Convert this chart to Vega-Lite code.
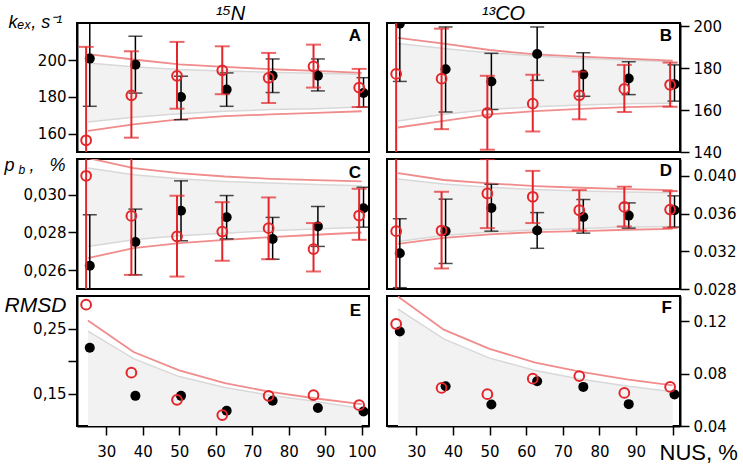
{
  "$schema": "https://vega.github.io/schema/vega-lite/v6.json",
  "padding": {"left": 3, "top": 2, "right": 0, "bottom": 0},
  "background": "white",
  "datasets": {
    "pts": [
      {"p":"A","s":"exp","x":25.5,"y":200.9,"lo":174.9,"hi":226.9},
      {"p":"A","s":"exp","x":38,"y":197.6,"lo":182.1,"hi":213.1},
      {"p":"A","s":"exp","x":50.5,"y":180.0,"lo":167.6,"hi":191.3},
      {"p":"A","s":"exp","x":63,"y":184.0,"lo":174.9,"hi":193.1},
      {"p":"A","s":"exp","x":75.6,"y":191.6,"lo":182.4,"hi":200.7},
      {"p":"A","s":"exp","x":88,"y":191.6,"lo":183.3,"hi":200.7},
      {"p":"A","s":"exp","x":100.5,"y":182.2,"lo":174.5,"hi":190.5},
      {"p":"A","s":"sim","x":24.5,"y":156.4,"lo":105,"hi":207.3},
      {"p":"A","s":"sim","x":36.9,"y":180.9,"lo":157.8,"hi":204.9},
      {"p":"A","s":"sim","x":49.4,"y":191.5,"lo":173.6,"hi":210.0},
      {"p":"A","s":"sim","x":61.8,"y":194.5,"lo":181.5,"hi":207.6},
      {"p":"A","s":"sim","x":74.5,"y":190.4,"lo":176.7,"hi":204.0},
      {"p":"A","s":"sim","x":86.8,"y":196.7,"lo":185.1,"hi":208.5},
      {"p":"A","s":"sim","x":99.3,"y":185.1,"lo":174.5,"hi":195.3},
      {"p":"B","s":"exp","x":25.5,"y":201.3,"lo":173.7,"hi":229},
      {"p":"B","s":"exp","x":38,"y":179.5,"lo":159.1,"hi":199.7},
      {"p":"B","s":"exp","x":50.5,"y":173.7,"lo":160.3,"hi":187.1},
      {"p":"B","s":"exp","x":63,"y":186.8,"lo":174.2,"hi":199.7},
      {"p":"B","s":"exp","x":75.6,"y":177.0,"lo":166.6,"hi":187.4},
      {"p":"B","s":"exp","x":88,"y":175.1,"lo":167.4,"hi":183.1},
      {"p":"B","s":"exp","x":100.5,"y":172.4,"lo":164.3,"hi":181.6},
      {"p":"B","s":"sim","x":24.5,"y":177.3,"lo":127,"hi":228},
      {"p":"B","s":"sim","x":36.9,"y":175.0,"lo":150.9,"hi":198.9},
      {"p":"B","s":"sim","x":49.4,"y":158.7,"lo":141.1,"hi":176.4},
      {"p":"B","s":"sim","x":61.8,"y":163.1,"lo":149.8,"hi":176.9},
      {"p":"B","s":"sim","x":74.5,"y":167.1,"lo":155.6,"hi":178.4},
      {"p":"B","s":"sim","x":86.8,"y":170.1,"lo":159.1,"hi":181.6},
      {"p":"B","s":"sim","x":99.3,"y":172.1,"lo":161.6,"hi":182.7},
      {"p":"C","s":"exp","x":25.5,"y":0.02623,"lo":0.02353,"hi":0.02894},
      {"p":"C","s":"exp","x":38,"y":0.02749,"lo":0.02575,"hi":0.02924},
      {"p":"C","s":"exp","x":50.5,"y":0.02915,"lo":0.02756,"hi":0.03074},
      {"p":"C","s":"exp","x":63,"y":0.02881,"lo":0.02766,"hi":0.02996},
      {"p":"C","s":"exp","x":75.6,"y":0.02765,"lo":0.02658,"hi":0.0288},
      {"p":"C","s":"exp","x":88,"y":0.02832,"lo":0.02726,"hi":0.02938},
      {"p":"C","s":"exp","x":100.5,"y":0.02929,"lo":0.02828,"hi":0.0304},
      {"p":"C","s":"sim","x":24.5,"y":0.03101,"lo":0.021,"hi":0.041},
      {"p":"C","s":"sim","x":36.9,"y":0.02888,"lo":0.02575,"hi":0.03201},
      {"p":"C","s":"sim","x":49.4,"y":0.02779,"lo":0.02566,"hi":0.02995},
      {"p":"C","s":"sim","x":61.8,"y":0.02805,"lo":0.0265,"hi":0.02961},
      {"p":"C","s":"sim","x":74.5,"y":0.02823,"lo":0.02658,"hi":0.02986},
      {"p":"C","s":"sim","x":86.8,"y":0.02712,"lo":0.02593,"hi":0.0285},
      {"p":"C","s":"sim","x":99.3,"y":0.0289,"lo":0.02761,"hi":0.03032},
      {"p":"D","s":"exp","x":25.5,"y":0.03179,"lo":0.02814,"hi":0.03546},
      {"p":"D","s":"exp","x":38,"y":0.03414,"lo":0.03071,"hi":0.03754},
      {"p":"D","s":"exp","x":50.5,"y":0.03661,"lo":0.03414,"hi":0.03911},
      {"p":"D","s":"exp","x":63,"y":0.03421,"lo":0.03232,"hi":0.03611},
      {"p":"D","s":"exp","x":75.6,"y":0.03564,"lo":0.03393,"hi":0.0375},
      {"p":"D","s":"exp","x":88,"y":0.03579,"lo":0.03446,"hi":0.03714},
      {"p":"D","s":"exp","x":100.5,"y":0.03636,"lo":0.03457,"hi":0.03789},
      {"p":"D","s":"sim","x":24.5,"y":0.03414,"lo":0.024,"hi":0.044},
      {"p":"D","s":"sim","x":36.9,"y":0.03421,"lo":0.03018,"hi":0.03832},
      {"p":"D","s":"sim","x":49.4,"y":0.03814,"lo":0.03446,"hi":0.04179},
      {"p":"D","s":"sim","x":61.8,"y":0.03779,"lo":0.035,"hi":0.04054},
      {"p":"D","s":"sim","x":74.5,"y":0.03636,"lo":0.03421,"hi":0.0385},
      {"p":"D","s":"sim","x":86.8,"y":0.03671,"lo":0.03464,"hi":0.03886},
      {"p":"D","s":"sim","x":99.3,"y":0.03643,"lo":0.0345,"hi":0.03839},
      {"p":"E","s":"exp","x":25.5,"y":0.2204},
      {"p":"E","s":"exp","x":38,"y":0.1464},
      {"p":"E","s":"exp","x":50.5,"y":0.1464},
      {"p":"E","s":"exp","x":63,"y":0.1235},
      {"p":"E","s":"exp","x":75.6,"y":0.1388},
      {"p":"E","s":"exp","x":88,"y":0.1276},
      {"p":"E","s":"exp","x":100.5,"y":0.1224},
      {"p":"E","s":"sim","x":24.5,"y":0.2867},
      {"p":"E","s":"sim","x":36.9,"y":0.1821},
      {"p":"E","s":"sim","x":49.4,"y":0.1403},
      {"p":"E","s":"sim","x":61.8,"y":0.1168},
      {"p":"E","s":"sim","x":74.5,"y":0.1464},
      {"p":"E","s":"sim","x":86.8,"y":0.1474},
      {"p":"E","s":"sim","x":99.3,"y":0.1321},
      {"p":"F","s":"exp","x":25.5,"y":0.1122},
      {"p":"F","s":"exp","x":38,"y":0.0704},
      {"p":"F","s":"exp","x":50.5,"y":0.0565},
      {"p":"F","s":"exp","x":63,"y":0.0742},
      {"p":"F","s":"exp","x":75.6,"y":0.0699},
      {"p":"F","s":"exp","x":88,"y":0.0567},
      {"p":"F","s":"exp","x":100.5,"y":0.0641},
      {"p":"F","s":"sim","x":24.5,"y":0.118},
      {"p":"F","s":"sim","x":36.9,"y":0.0691},
      {"p":"F","s":"sim","x":49.4,"y":0.0643},
      {"p":"F","s":"sim","x":61.8,"y":0.0762},
      {"p":"F","s":"sim","x":74.5,"y":0.0782},
      {"p":"F","s":"sim","x":86.8,"y":0.0653},
      {"p":"F","s":"sim","x":99.3,"y":0.0699}
    ],
    "band": [
      {"p":"A","x":25,"ru":203.3,"rl":161.5,"gu":198.5,"gl":166.4},
      {"p":"A","x":37.5,"ru":200.4,"rl":165.1,"gu":196.4,"gl":169.0},
      {"p":"A","x":50,"ru":197.8,"rl":167.8,"gu":195.0,"gl":170.9},
      {"p":"A","x":62.5,"ru":196.4,"rl":169.5,"gu":194.2,"gl":172.2},
      {"p":"A","x":75,"ru":195.1,"rl":170.5,"gu":193.5,"gl":173.1},
      {"p":"A","x":87.5,"ru":194.2,"rl":171.3,"gu":192.9,"gl":173.6},
      {"p":"A","x":100,"ru":193.1,"rl":172.2,"gu":192.4,"gl":174.5},
      {"p":"B","x":25,"ru":194.5,"rl":151.7,"gu":191.8,"gl":154.8},
      {"p":"B","x":37.5,"ru":191.8,"rl":154.9,"gu":189.4,"gl":158.0},
      {"p":"B","x":50,"ru":188.7,"rl":158.0,"gu":187.4,"gl":160.3},
      {"p":"B","x":62.5,"ru":186.6,"rl":159.5,"gu":185.8,"gl":161.6},
      {"p":"B","x":75,"ru":185.5,"rl":160.6,"gu":184.7,"gl":162.4},
      {"p":"B","x":87.5,"ru":184.6,"rl":161.4,"gu":183.9,"gl":163.0},
      {"p":"B","x":100,"ru":183.6,"rl":161.9,"gu":183.1,"gl":163.3},
      {"p":"C","x":25,"ru":0.03195,"rl":0.02664,"gu":0.03142,"gl":0.02726},
      {"p":"C","x":37.5,"ru":0.03142,"rl":0.02717,"gu":0.03106,"gl":0.02761},
      {"p":"C","x":50,"ru":0.03115,"rl":0.02743,"gu":0.03085,"gl":0.02782},
      {"p":"C","x":62.5,"ru":0.03097,"rl":0.02761,"gu":0.03071,"gl":0.02796},
      {"p":"C","x":75,"ru":0.03085,"rl":0.02775,"gu":0.03062,"gl":0.02809},
      {"p":"C","x":87.5,"ru":0.03078,"rl":0.02788,"gu":0.03055,"gl":0.02818},
      {"p":"C","x":100,"ru":0.03071,"rl":0.028,"gu":0.03048,"gl":0.02828},
      {"p":"D","x":25,"ru":0.04029,"rl":0.03279,"gu":0.03968,"gl":0.03304},
      {"p":"D","x":37.5,"ru":0.03957,"rl":0.03343,"gu":0.03914,"gl":0.03368},
      {"p":"D","x":50,"ru":0.03921,"rl":0.03379,"gu":0.03879,"gl":0.03404},
      {"p":"D","x":62.5,"ru":0.03893,"rl":0.03404,"gu":0.03857,"gl":0.03429},
      {"p":"D","x":75,"ru":0.03875,"rl":0.03414,"gu":0.03839,"gl":0.03443},
      {"p":"D","x":87.5,"ru":0.03861,"rl":0.03429,"gu":0.03829,"gl":0.03457},
      {"p":"D","x":100,"ru":0.0385,"rl":0.03439,"gu":0.03821,"gl":0.03464},
      {"p":"E","x":25,"ru":0.2622,"gu":0.2459,"gl":0.1},
      {"p":"E","x":37.5,"ru":0.2138,"gu":0.2036,"gl":0.1},
      {"p":"E","x":50,"ru":0.1857,"gu":0.176,"gl":0.1},
      {"p":"E","x":62.5,"ru":0.1658,"gu":0.1592,"gl":0.1},
      {"p":"E","x":75,"ru":0.1526,"gu":0.1474,"gl":0.1},
      {"p":"E","x":87.5,"ru":0.1423,"gu":0.1378,"gl":0.1},
      {"p":"E","x":100,"ru":0.1337,"gu":0.127,"gl":0.1},
      {"p":"F","x":25,"ru":0.139,"gu":0.1294,"gl":0.04},
      {"p":"F","x":37.5,"ru":0.1137,"gu":0.1066,"gl":0.04},
      {"p":"F","x":50,"ru":0.099,"gu":0.0919,"gl":0.04},
      {"p":"F","x":62.5,"ru":0.0884,"gu":0.0825,"gl":0.04},
      {"p":"F","x":75,"ru":0.0813,"gu":0.0757,"gl":0.04},
      {"p":"F","x":87.5,"ru":0.0757,"gu":0.0706,"gl":0.04},
      {"p":"F","x":100,"ru":0.0711,"gu":0.0661,"gl":0.04}
    ]
  },
  "config": {
    "view": {"stroke": "black", "strokeWidth": 2},
    "axis": {"domainColor": "black", "domainWidth": 2, "tickColor": "black", "tickWidth": 1.5, "tickSize": 9, "labelFont": "DejaVu Sans", "labelFontSize": 15, "labelColor": "black", "grid": false, "titleColor": "black", "titleFontWeight": "normal", "titleFont": "Liberation Sans", "titleFontStyle": "italic"},
    "title": {"font": "Liberation Sans", "fontSize": 17, "fontWeight": "bold", "color": "black", "anchor": "end", "frame": "group", "baseline": "alphabetic", "dx": -8}
  },
  "columns": 2,
  "spacing": {"row": 7, "column": 18},
  "bounds": "flush",
  "concat": [
    {
      "width": 292, "height": 129,
      "title": {"text": "A", "offset": -42},
      "layer": [
        {"data": {"name": "band"}, "transform": [{"filter": "datum.p == 'A'"}], "mark": {"type": "area", "color": "#f2f2f2", "clip": true},
         "encoding": {
           "x": {"field": "x", "type": "quantitative", "scale": {"domain": [22, 102], "nice": false, "zero": false},
                 "axis": {"orient": "top", "labels": false, "ticks": false, "domain": false, "title": "¹⁵N", "titleFontSize": 20, "titleX": 153, "titleY": -4, "titleBaseline": "alphabetic", "titleAlign": "center"}},
           "y": {"field": "gu", "type": "quantitative", "scale": {"domain": [150, 220.3], "nice": false, "zero": false},
                 "axis": {"values": [160, 180, 200], "labelPadding": 2, "title": "kₑₓ, s⁻¹", "titleFontSize": 18, "titleAngle": 0, "titleAlign": "left", "titleBaseline": "alphabetic", "titleX": -69, "titleY": 4}},
           "y2": {"field": "gl"}}},
        {"data": {"name": "band"}, "transform": [{"filter": "datum.p == 'A'"}], "mark": {"type": "line", "color": "#d8d8d8", "strokeWidth": 1.5, "clip": true},
         "encoding": {"x": {"field": "x", "type": "quantitative"}, "y": {"field": "gu", "type": "quantitative", "title": "kₑₓ, s⁻¹"}}},
        {"data": {"name": "band"}, "transform": [{"filter": "datum.p == 'A'"}], "mark": {"type": "line", "color": "#d8d8d8", "strokeWidth": 1.5, "clip": true},
         "encoding": {"x": {"field": "x", "type": "quantitative"}, "y": {"field": "gl", "type": "quantitative", "title": "kₑₓ, s⁻¹"}}},
        {"data": {"name": "band"}, "transform": [{"filter": "datum.p == 'A'"}], "mark": {"type": "line", "color": "#f08c8c", "strokeWidth": 1.8, "clip": true},
         "encoding": {"x": {"field": "x", "type": "quantitative"}, "y": {"field": "ru", "type": "quantitative", "title": "kₑₓ, s⁻¹"}}},
        {"data": {"name": "band"}, "transform": [{"filter": "datum.p == 'A'"}], "mark": {"type": "line", "color": "#f08c8c", "strokeWidth": 1.8, "clip": true},
         "encoding": {"x": {"field": "x", "type": "quantitative"}, "y": {"field": "rl", "type": "quantitative", "title": "kₑₓ, s⁻¹"}}},
        {"data": {"name": "pts"}, "transform": [{"filter": "datum.p == 'A' && datum.s == 'exp'"}], "mark": {"type": "errorbar", "color": "black", "thickness": 1.5, "ticks": {"size": 14, "thickness": 1.5}, "clip": true},
         "encoding": {"x": {"field": "x", "type": "quantitative"}, "y": {"field": "lo", "type": "quantitative", "title": "kₑₓ, s⁻¹"}, "y2": {"field": "hi"}}},
        {"data": {"name": "pts"}, "transform": [{"filter": "datum.p == 'A' && datum.s == 'exp'"}], "mark": {"type": "point", "filled": true, "color": "black", "opacity": 1, "size": 100, "clip": true},
         "encoding": {"x": {"field": "x", "type": "quantitative"}, "y": {"field": "y", "type": "quantitative", "title": "kₑₓ, s⁻¹"}}},
        {"data": {"name": "pts"}, "transform": [{"filter": "datum.p == 'A' && datum.s == 'sim'"}], "mark": {"type": "errorbar", "color": "#e3262b", "thickness": 2, "ticks": {"size": 15, "thickness": 2}, "clip": true},
         "encoding": {"x": {"field": "x", "type": "quantitative"}, "y": {"field": "lo", "type": "quantitative", "title": "kₑₓ, s⁻¹"}, "y2": {"field": "hi"}}},
        {"data": {"name": "pts"}, "transform": [{"filter": "datum.p == 'A' && datum.s == 'sim'"}], "mark": {"type": "point", "filled": false, "color": "#e3262b", "strokeWidth": 2, "opacity": 1, "size": 95, "clip": true},
         "encoding": {"x": {"field": "x", "type": "quantitative"}, "y": {"field": "y", "type": "quantitative", "title": "kₑₓ, s⁻¹"}}}
      ]
    },
    {
      "width": 293, "height": 129,
      "title": {"text": "B", "offset": -42},
      "layer": [
        {"data": {"name": "band"}, "transform": [{"filter": "datum.p == 'B'"}], "mark": {"type": "area", "color": "#f2f2f2", "clip": true},
         "encoding": {
           "x": {"field": "x", "type": "quantitative", "scale": {"domain": [22, 102], "nice": false, "zero": false},
                 "axis": {"orient": "top", "labels": false, "ticks": false, "domain": false, "title": "¹³CO", "titleFontSize": 20, "titleX": 116, "titleY": -4, "titleBaseline": "alphabetic", "titleAlign": "center"}},
           "y": {"field": "gu", "type": "quantitative", "scale": {"domain": [140, 201.6], "nice": false, "zero": false},
                 "axis": {"orient": "right", "values": [140, 160, 180, 200], "labelPadding": 4, "title": null}},
           "y2": {"field": "gl"}}},
        {"data": {"name": "band"}, "transform": [{"filter": "datum.p == 'B'"}], "mark": {"type": "line", "color": "#d8d8d8", "strokeWidth": 1.5, "clip": true},
         "encoding": {"x": {"field": "x", "type": "quantitative"}, "y": {"field": "gu", "type": "quantitative", "title": null}}},
        {"data": {"name": "band"}, "transform": [{"filter": "datum.p == 'B'"}], "mark": {"type": "line", "color": "#d8d8d8", "strokeWidth": 1.5, "clip": true},
         "encoding": {"x": {"field": "x", "type": "quantitative"}, "y": {"field": "gl", "type": "quantitative", "title": null}}},
        {"data": {"name": "band"}, "transform": [{"filter": "datum.p == 'B'"}], "mark": {"type": "line", "color": "#f08c8c", "strokeWidth": 1.8, "clip": true},
         "encoding": {"x": {"field": "x", "type": "quantitative"}, "y": {"field": "ru", "type": "quantitative", "title": null}}},
        {"data": {"name": "band"}, "transform": [{"filter": "datum.p == 'B'"}], "mark": {"type": "line", "color": "#f08c8c", "strokeWidth": 1.8, "clip": true},
         "encoding": {"x": {"field": "x", "type": "quantitative"}, "y": {"field": "rl", "type": "quantitative", "title": null}}},
        {"data": {"name": "pts"}, "transform": [{"filter": "datum.p == 'B' && datum.s == 'exp'"}], "mark": {"type": "errorbar", "color": "black", "thickness": 1.5, "ticks": {"size": 14, "thickness": 1.5}, "clip": true},
         "encoding": {"x": {"field": "x", "type": "quantitative"}, "y": {"field": "lo", "type": "quantitative", "title": null}, "y2": {"field": "hi"}}},
        {"data": {"name": "pts"}, "transform": [{"filter": "datum.p == 'B' && datum.s == 'exp'"}], "mark": {"type": "point", "filled": true, "color": "black", "opacity": 1, "size": 100, "clip": true},
         "encoding": {"x": {"field": "x", "type": "quantitative"}, "y": {"field": "y", "type": "quantitative", "title": null}}},
        {"data": {"name": "pts"}, "transform": [{"filter": "datum.p == 'B' && datum.s == 'sim'"}], "mark": {"type": "errorbar", "color": "#e3262b", "thickness": 2, "ticks": {"size": 15, "thickness": 2}, "clip": true},
         "encoding": {"x": {"field": "x", "type": "quantitative"}, "y": {"field": "lo", "type": "quantitative", "title": null}, "y2": {"field": "hi"}}},
        {"data": {"name": "pts"}, "transform": [{"filter": "datum.p == 'B' && datum.s == 'sim'"}], "mark": {"type": "point", "filled": false, "color": "#e3262b", "strokeWidth": 2, "opacity": 1, "size": 95, "clip": true},
         "encoding": {"x": {"field": "x", "type": "quantitative"}, "y": {"field": "y", "type": "quantitative", "title": null}}}
      ]
    },
    {
      "width": 292, "height": 130,
      "title": {"text": "C", "offset": -26},
      "layer": [
        {"data": {"name": "band"}, "transform": [{"filter": "datum.p == 'C'"}], "mark": {"type": "area", "color": "#f2f2f2", "clip": true},
         "encoding": {
           "x": {"field": "x", "type": "quantitative", "scale": {"domain": [22, 102], "nice": false, "zero": false},
                 "axis": {"orient": "top", "labels": false, "ticks": false, "domain": false, "title": "b", "titleFontSize": 12, "titleX": -59, "titleY": 14, "titleBaseline": "alphabetic", "titleAlign": "left"}},
           "y": {"field": "gu", "type": "quantitative", "scale": {"domain": [0.025, 0.0319], "nice": false, "zero": false},
                 "axis": {"values": [0.026, 0.028, 0.030], "labelExpr": "replace(format(datum.value, '.3f'), '.', ',')", "labelPadding": 2, "title": "p\u00a0\u00a0\u00a0,\u00a0\u00a0\u00a0%", "titleFontSize": 18, "titleAngle": 0, "titleAlign": "left", "titleBaseline": "alphabetic", "titleX": -73, "titleY": 11}},
           "y2": {"field": "gl"}}},
        {"data": {"name": "band"}, "transform": [{"filter": "datum.p == 'C'"}], "mark": {"type": "line", "color": "#d8d8d8", "strokeWidth": 1.5, "clip": true},
         "encoding": {"x": {"field": "x", "type": "quantitative", "title": "b"}, "y": {"field": "gu", "type": "quantitative", "title": "p\u00a0\u00a0\u00a0,\u00a0\u00a0\u00a0%"}}},
        {"data": {"name": "band"}, "transform": [{"filter": "datum.p == 'C'"}], "mark": {"type": "line", "color": "#d8d8d8", "strokeWidth": 1.5, "clip": true},
         "encoding": {"x": {"field": "x", "type": "quantitative", "title": "b"}, "y": {"field": "gl", "type": "quantitative", "title": "p\u00a0\u00a0\u00a0,\u00a0\u00a0\u00a0%"}}},
        {"data": {"name": "band"}, "transform": [{"filter": "datum.p == 'C'"}], "mark": {"type": "line", "color": "#f08c8c", "strokeWidth": 1.8, "clip": true},
         "encoding": {"x": {"field": "x", "type": "quantitative", "title": "b"}, "y": {"field": "ru", "type": "quantitative", "title": "p\u00a0\u00a0\u00a0,\u00a0\u00a0\u00a0%"}}},
        {"data": {"name": "band"}, "transform": [{"filter": "datum.p == 'C'"}], "mark": {"type": "line", "color": "#f08c8c", "strokeWidth": 1.8, "clip": true},
         "encoding": {"x": {"field": "x", "type": "quantitative", "title": "b"}, "y": {"field": "rl", "type": "quantitative", "title": "p\u00a0\u00a0\u00a0,\u00a0\u00a0\u00a0%"}}},
        {"data": {"name": "pts"}, "transform": [{"filter": "datum.p == 'C' && datum.s == 'exp'"}], "mark": {"type": "errorbar", "color": "black", "thickness": 1.5, "ticks": {"size": 14, "thickness": 1.5}, "clip": true},
         "encoding": {"x": {"field": "x", "type": "quantitative", "title": "b"}, "y": {"field": "lo", "type": "quantitative", "title": "p\u00a0\u00a0\u00a0,\u00a0\u00a0\u00a0%"}, "y2": {"field": "hi"}}},
        {"data": {"name": "pts"}, "transform": [{"filter": "datum.p == 'C' && datum.s == 'exp'"}], "mark": {"type": "point", "filled": true, "color": "black", "opacity": 1, "size": 100, "clip": true},
         "encoding": {"x": {"field": "x", "type": "quantitative", "title": "b"}, "y": {"field": "y", "type": "quantitative", "title": "p\u00a0\u00a0\u00a0,\u00a0\u00a0\u00a0%"}}},
        {"data": {"name": "pts"}, "transform": [{"filter": "datum.p == 'C' && datum.s == 'sim'"}], "mark": {"type": "errorbar", "color": "#e3262b", "thickness": 2, "ticks": {"size": 15, "thickness": 2}, "clip": true},
         "encoding": {"x": {"field": "x", "type": "quantitative", "title": "b"}, "y": {"field": "lo", "type": "quantitative", "title": "p\u00a0\u00a0\u00a0,\u00a0\u00a0\u00a0%"}, "y2": {"field": "hi"}}},
        {"data": {"name": "pts"}, "transform": [{"filter": "datum.p == 'C' && datum.s == 'sim'"}], "mark": {"type": "point", "filled": false, "color": "#e3262b", "strokeWidth": 2, "opacity": 1, "size": 95, "clip": true},
         "encoding": {"x": {"field": "x", "type": "quantitative", "title": "b"}, "y": {"field": "y", "type": "quantitative", "title": "p\u00a0\u00a0\u00a0,\u00a0\u00a0\u00a0%"}}}
      ]
    },
    {
      "width": 293, "height": 130,
      "title": {"text": "D", "offset": -21},
      "layer": [
        {"data": {"name": "band"}, "transform": [{"filter": "datum.p == 'D'"}], "mark": {"type": "area", "color": "#f2f2f2", "clip": true},
         "encoding": {
           "x": {"field": "x", "type": "quantitative", "scale": {"domain": [22, 102], "nice": false, "zero": false}, "axis": null},
           "y": {"field": "gu", "type": "quantitative", "scale": {"domain": [0.028, 0.0418], "nice": false, "zero": false},
                 "axis": {"orient": "right", "values": [0.028, 0.032, 0.036, 0.040], "format": ".3f", "labelPadding": 4, "title": null}},
           "y2": {"field": "gl"}}},
        {"data": {"name": "band"}, "transform": [{"filter": "datum.p == 'D'"}], "mark": {"type": "line", "color": "#d8d8d8", "strokeWidth": 1.5, "clip": true},
         "encoding": {"x": {"field": "x", "type": "quantitative"}, "y": {"field": "gu", "type": "quantitative", "title": null}}},
        {"data": {"name": "band"}, "transform": [{"filter": "datum.p == 'D'"}], "mark": {"type": "line", "color": "#d8d8d8", "strokeWidth": 1.5, "clip": true},
         "encoding": {"x": {"field": "x", "type": "quantitative"}, "y": {"field": "gl", "type": "quantitative", "title": null}}},
        {"data": {"name": "band"}, "transform": [{"filter": "datum.p == 'D'"}], "mark": {"type": "line", "color": "#f08c8c", "strokeWidth": 1.8, "clip": true},
         "encoding": {"x": {"field": "x", "type": "quantitative"}, "y": {"field": "ru", "type": "quantitative", "title": null}}},
        {"data": {"name": "band"}, "transform": [{"filter": "datum.p == 'D'"}], "mark": {"type": "line", "color": "#f08c8c", "strokeWidth": 1.8, "clip": true},
         "encoding": {"x": {"field": "x", "type": "quantitative"}, "y": {"field": "rl", "type": "quantitative", "title": null}}},
        {"data": {"name": "pts"}, "transform": [{"filter": "datum.p == 'D' && datum.s == 'exp'"}], "mark": {"type": "errorbar", "color": "black", "thickness": 1.5, "ticks": {"size": 14, "thickness": 1.5}, "clip": true},
         "encoding": {"x": {"field": "x", "type": "quantitative"}, "y": {"field": "lo", "type": "quantitative", "title": null}, "y2": {"field": "hi"}}},
        {"data": {"name": "pts"}, "transform": [{"filter": "datum.p == 'D' && datum.s == 'exp'"}], "mark": {"type": "point", "filled": true, "color": "black", "opacity": 1, "size": 100, "clip": true},
         "encoding": {"x": {"field": "x", "type": "quantitative"}, "y": {"field": "y", "type": "quantitative", "title": null}}},
        {"data": {"name": "pts"}, "transform": [{"filter": "datum.p == 'D' && datum.s == 'sim'"}], "mark": {"type": "errorbar", "color": "#e3262b", "thickness": 2, "ticks": {"size": 15, "thickness": 2}, "clip": true},
         "encoding": {"x": {"field": "x", "type": "quantitative"}, "y": {"field": "lo", "type": "quantitative", "title": null}, "y2": {"field": "hi"}}},
        {"data": {"name": "pts"}, "transform": [{"filter": "datum.p == 'D' && datum.s == 'sim'"}], "mark": {"type": "point", "filled": false, "color": "#e3262b", "strokeWidth": 2, "opacity": 1, "size": 95, "clip": true},
         "encoding": {"x": {"field": "x", "type": "quantitative"}, "y": {"field": "y", "type": "quantitative", "title": null}}}
      ]
    },
    {
      "width": 292, "height": 130,
      "title": {"text": "E", "offset": -26},
      "layer": [
        {"data": {"name": "band"}, "transform": [{"filter": "datum.p == 'E'"}], "mark": {"type": "area", "color": "#f2f2f2", "clip": true},
         "encoding": {
           "x": {"field": "x", "type": "quantitative", "scale": {"domain": [22, 102], "nice": false, "zero": false},
                 "axis": {"values": [30, 40, 50, 60, 70, 80, 90, 100], "labelPadding": 9, "title": null}},
           "y": {"field": "gu", "type": "quantitative", "scale": {"domain": [0.1, 0.3], "nice": false, "zero": false},
                 "axis": {"values": [0.15, 0.2, 0.25], "labelExpr": "abs(datum.value - 0.2) < 0.001 ? '' : replace(format(datum.value, '.2f'), '.', ',')", "labelPadding": 2, "title": "RMSD", "titleFontSize": 21, "titleAngle": 0, "titleAlign": "left", "titleBaseline": "alphabetic", "titleX": -73, "titleY": 15}},
           "y2": {"field": "gl"}}},
        {"data": {"name": "band"}, "transform": [{"filter": "datum.p == 'E'"}], "mark": {"type": "line", "color": "#d8d8d8", "strokeWidth": 1.5, "clip": true},
         "encoding": {"x": {"field": "x", "type": "quantitative", "title": null}, "y": {"field": "gu", "type": "quantitative", "title": "RMSD"}}},
        {"data": {"name": "band"}, "transform": [{"filter": "datum.p == 'E'"}], "mark": {"type": "line", "color": "#f08c8c", "strokeWidth": 1.8, "clip": true},
         "encoding": {"x": {"field": "x", "type": "quantitative", "title": null}, "y": {"field": "ru", "type": "quantitative", "title": "RMSD"}}},
        {"data": {"name": "pts"}, "transform": [{"filter": "datum.p == 'E' && datum.s == 'exp'"}], "mark": {"type": "point", "filled": true, "color": "black", "opacity": 1, "size": 100, "clip": true},
         "encoding": {"x": {"field": "x", "type": "quantitative", "title": null}, "y": {"field": "y", "type": "quantitative", "title": "RMSD"}}},
        {"data": {"name": "pts"}, "transform": [{"filter": "datum.p == 'E' && datum.s == 'sim'"}], "mark": {"type": "point", "filled": false, "color": "#e3262b", "strokeWidth": 2, "opacity": 1, "size": 95, "clip": true},
         "encoding": {"x": {"field": "x", "type": "quantitative", "title": null}, "y": {"field": "y", "type": "quantitative", "title": "RMSD"}}}
      ]
    },
    {
      "width": 293, "height": 130,
      "title": {"text": "F", "offset": -21},
      "layer": [
        {"data": {"name": "band"}, "transform": [{"filter": "datum.p == 'F'"}], "mark": {"type": "area", "color": "#f2f2f2", "clip": true},
         "encoding": {
           "x": {"field": "x", "type": "quantitative", "scale": {"domain": [22, 102], "nice": false, "zero": false},
                 "axis": {"values": [30, 40, 50, 60, 70, 80, 90, 100], "labelExpr": "datum.value == 100 ? '' : datum.label", "labelPadding": 9, "title": "NUS, %", "titleFontStyle": "normal", "titleFontSize": 22, "titleAlign": "left", "titleBaseline": "alphabetic", "titleX": 272, "titleY": 33}},
           "y": {"field": "gu", "type": "quantitative", "scale": {"domain": [0.04, 0.1394], "nice": false, "zero": false},
                 "axis": {"orient": "right", "values": [0.04, 0.08, 0.12], "format": ".2f", "labelPadding": 4, "title": null}},
           "y2": {"field": "gl"}}},
        {"data": {"name": "band"}, "transform": [{"filter": "datum.p == 'F'"}], "mark": {"type": "line", "color": "#d8d8d8", "strokeWidth": 1.5, "clip": true},
         "encoding": {"x": {"field": "x", "type": "quantitative", "title": "NUS, %"}, "y": {"field": "gu", "type": "quantitative", "title": null}}},
        {"data": {"name": "band"}, "transform": [{"filter": "datum.p == 'F'"}], "mark": {"type": "line", "color": "#f08c8c", "strokeWidth": 1.8, "clip": true},
         "encoding": {"x": {"field": "x", "type": "quantitative", "title": "NUS, %"}, "y": {"field": "ru", "type": "quantitative", "title": null}}},
        {"data": {"name": "pts"}, "transform": [{"filter": "datum.p == 'F' && datum.s == 'exp'"}], "mark": {"type": "point", "filled": true, "color": "black", "opacity": 1, "size": 100, "clip": true},
         "encoding": {"x": {"field": "x", "type": "quantitative", "title": "NUS, %"}, "y": {"field": "y", "type": "quantitative", "title": null}}},
        {"data": {"name": "pts"}, "transform": [{"filter": "datum.p == 'F' && datum.s == 'sim'"}], "mark": {"type": "point", "filled": false, "color": "#e3262b", "strokeWidth": 2, "opacity": 1, "size": 95, "clip": true},
         "encoding": {"x": {"field": "x", "type": "quantitative", "title": "NUS, %"}, "y": {"field": "y", "type": "quantitative", "title": null}}}
      ]
    }
  ]
}
